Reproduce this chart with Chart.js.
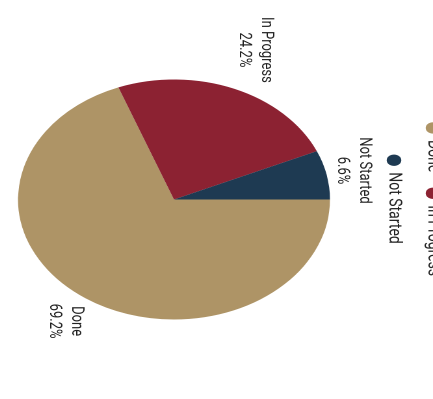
<!DOCTYPE html>
<html>
<head>
<meta charset="utf-8">
<script src="https://cdn.jsdelivr.net/npm/chart.js@4.4.1/dist/chart.umd.min.js"></script>
<style>
  html, body { margin: 0; padding: 0; background: #ffffff; overflow: hidden; width: 433px; height: 399px; }
  #frame {
    position: absolute; left: 0; top: 0; width: 399px; height: 356px;
    transform-origin: 0 0;
    transform: matrix(0, 1, -1.3, 0, 462.9, 0);
  }
</style>
</head>
<body>
<div id="frame"><canvas id="c" width="399" height="356"></canvas></div>
<script>
const categories = ["Done", "In Progress", "Not Started"];
const values = [69.2, 24.2, 6.6];
const colors = ["#ae9466", "#8c2232", "#1e3a52"];

const legendGap = {
  id: 'legendGap',
  beforeInit(chart) {
    const lg = chart.legend;
    if (!lg) return;
    const orig = lg.fit;
    lg.fit = function () { orig.call(this); this.height += 32.2; };
  }
};

const outsideLabels = {
  id: 'outsideLabels',
  afterDatasetsDraw(chart) {
    const ctx = chart.ctx;
    const meta = chart.getDatasetMeta(0);
    const data = chart.data.datasets[0].data;
    const total = data.reduce((a, b) => a + b, 0);
    const lh = 17, boxHalfH = 14, gap = 6.5;
    ctx.save();
    ctx.font = '13px Roboto';
    ctx.fillStyle = '#222222';
    ctx.textAlign = 'center';
    ctx.textBaseline = 'middle';
    meta.data.forEach((arc, i) => {
      const p = arc.getProps(['x', 'y', 'startAngle', 'endAngle', 'outerRadius'], true);
      const mid = (p.startAngle + p.endAngle) / 2;
      const dx = Math.cos(mid), dy = Math.sin(mid);
      const lines = [chart.data.labels[i], (data[i] / total * 100).toFixed(1) + '%'];
      const w = Math.max(...lines.map(t => ctx.measureText(t).width));
      const d = Math.min(Math.abs(dx) > 1e-6 ? (w / 2) / Math.abs(dx) : Infinity,
                         Math.abs(dy) > 1e-6 ? boxHalfH / Math.abs(dy) : Infinity);
      const r = p.outerRadius + gap + d;
      const cx = p.x + dx * r, cy = p.y + dy * r;
      ctx.fillText(lines[0], cx, cy - lh / 2);
      ctx.fillText(lines[1], cx, cy + lh / 2);
    });
    ctx.restore();
  }
};

new Chart(document.getElementById('c'), {
  type: 'pie',
  data: {
    labels: categories,
    datasets: [{
      data: values,
      backgroundColor: colors,
      borderWidth: 0,
      hoverOffset: 0
    }]
  },
  options: {
    responsive: false,
    animation: false,
    devicePixelRatio: 2,
    layout: { padding: { left: 70, right: 70, top: 0, bottom: 13.8 } },
    plugins: {
      tooltip: { enabled: false },
      legend: {
        position: 'top',
        labels: {
          usePointStyle: true,
          pointStyle: 'circle',
          boxWidth: 10,
          boxHeight: 8,
          padding: 16,
          color: '#222222',
          font: { family: 'Roboto', size: 14 }
        }
      }
    }
  },
  plugins: [legendGap, outsideLabels]
});
</script>
</body>
</html>
